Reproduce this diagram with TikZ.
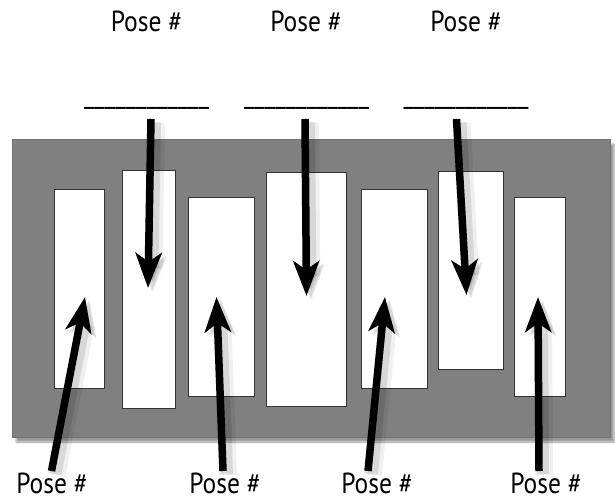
\documentclass[tikz,border=0pt]{standalone}
\usepackage{fontspec}
\setmainfont[FakeStretch=0.88]{PT Sans}
\usetikzlibrary{arrows.meta,shadows.blur}
\tikzset{>={Stealth[length=35pt,width=26pt,inset=9pt]}}
\tikzset{
    board/.style={fill=gray,draw=black!55,line width=0.6pt,
        blur shadow={shadow xshift=4pt,shadow yshift=-5pt,shadow blur steps=8,shadow opacity=40}},
    slotbox/.style={fill=white,draw=black!80,line width=0.8pt},
    pointer/.style={->,line width=7.5pt,
        preaction={draw=black,opacity=0.06,line width=18pt,transform canvas={shift={(5pt,-4pt)}}},
        preaction={draw=black,opacity=0.10,line width=12pt,transform canvas={shift={(4pt,-3pt)}}}},
    pose/.style={font=\fontsize{29}{34}\selectfont,inner sep=0pt,anchor=base},
}
\newcommand\slot[4]{
    \draw[slotbox] (#1,#2) rectangle (#3,#4);
}

\begin{document}
\begin{tikzpicture}[x=1pt,y=-1pt]
            \useasboundingbox (0,0) rectangle (615,502);
            \draw[board] (12,139) rectangle (610,437);
            \slot{54}{189}{104}{388}
            \slot{122}{170}{175}{408}
            \slot{188}{197}{254}{396}
            \slot{266}{172}{346}{406}
            \slot{361}{189}{427}{388}
            \slot{438}{171}{503}{369}
            \slot{514}{197}{565}{396}
            % labels above
            \node[pose] (top1) at (146.5,32) {Pose \#};
            \node[pose] (top2) at (306,32) {Pose \#};
            \node[pose] (top3) at (466,32) {Pose \#};
            \node[pose] (blank1) at (146.5,104) {\_\_\_\_\_\_\_\_\_\_\_\_};
            \node[pose] (blank2) at (306.5,104) {\_\_\_\_\_\_\_\_\_\_\_\_};
            \node[pose] (blank3) at (466,104) {\_\_\_\_\_\_\_\_\_\_\_\_};
            % labels below
            \node[pose] (bot1) at (52,493) {Pose \#};
            \node[pose] (bot2) at (225,493) {Pose \#};
            \node[pose] (bot3) at (377,493) {Pose \#};
            \node[pose] (bot4) at (546,493) {Pose \#};
            \coordinate (from1) at (151,119);
            \coordinate (into1) at (148,288);
            \coordinate (from2) at (305,119);
            \coordinate (into2) at (306.5,296);
            \coordinate (from3) at (456.5,119);
            \coordinate (into3) at (466.5,295);
            \coordinate (up1) at (51.5,471);
            \coordinate (tip1) at (85,297);
            \coordinate (up2) at (223,471);
            \coordinate (tip2) at (216.5,297);
            \coordinate (up3) at (368,471);
            \coordinate (tip3) at (385,297);
            \coordinate (up4) at (539,471);
            \coordinate (tip4) at (538,297);
            \draw[pointer] (from1) -- (into1);
            \draw[pointer] (from2) -- (into2);
            \draw[pointer] (from3) -- (into3);
            \draw[pointer] (up1) -- (tip1);
            \draw[pointer] (up2) -- (tip2);
            \draw[pointer] (up3) -- (tip3);
            \draw[pointer] (up4) -- (tip4);
\end{tikzpicture}
\end{document}
